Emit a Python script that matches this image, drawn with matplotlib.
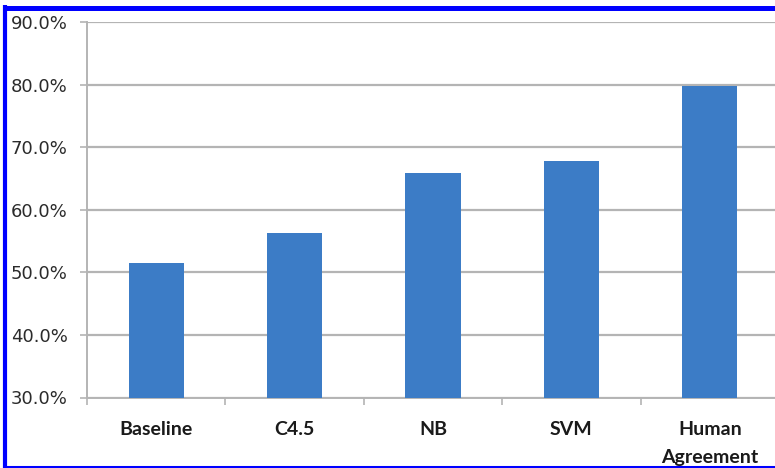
import matplotlib
matplotlib.use("Agg")
import matplotlib.pyplot as plt
from matplotlib.lines import Line2D
from matplotlib.ticker import FixedLocator, FuncFormatter

categories = ["Baseline", "C4.5", "NB", "SVM", "Human\nAgreement"]
accuracy = [51.5, 56.3, 65.8, 67.8, 79.8]
y_ticks = [30, 40, 50, 60, 70, 80, 90]

BAR_COLOR = "#3c7cc6"
GRID_COLOR = "#b4b4b4"
W, H = 775, 468

fig = plt.figure(figsize=(W / 100, H / 100), dpi=100)
fig.patch.set_facecolor("white")

# axes box in pixels: left spine at x=87, 90% line at y=22, 30% line at y=397
left_px, top_px, bottom_px = 87, 22, 397.5
cat_px = 138.4
ax = fig.add_axes([
    left_px / W,
    (H - bottom_px) / H,
    5 * cat_px / W,
    (bottom_px - top_px) / H,
])

x = list(range(len(categories)))
ax.bar(x, accuracy, width=0.40, color=BAR_COLOR, zorder=3, bottom=0)
ax.set_xlim(-0.5, len(categories) - 0.5)
ax.set_ylim(30, 90)

ax.yaxis.set_major_locator(FixedLocator(y_ticks))
ax.yaxis.set_major_formatter(FuncFormatter(lambda v, _: f"{v:.1f}%"))
ax.grid(axis="y", color=GRID_COLOR, linewidth=1.6, zorder=0)
ax.tick_params(axis="y", length=5, width=1.2, color=GRID_COLOR, pad=9,
               labelsize=13, labelcolor="#2b2b2b")

# category ticks sit on the boundaries between groups
ax.set_xticks([i + 0.5 for i in range(-1, len(categories))], minor=False)
ax.set_xticklabels([])
ax.set_xticks(x, minor=True)
ax.set_xticklabels(categories, minor=True, fontfamily="Lato",
                   fontweight="bold", fontsize=14, color="#1a1a1a",
                   linespacing=1.75, va="top")
ax.tick_params(axis="x", which="major", length=5, width=1.2, color=GRID_COLOR)
ax.tick_params(axis="x", which="minor", length=0, pad=17)

for side in ("top", "right"):
    ax.spines[side].set_visible(False)
for side in ("left", "bottom"):
    ax.spines[side].set_color(GRID_COLOR)
    ax.spines[side].set_linewidth(1.4)

# blue frame around the figure (right side falls outside the canvas)
frame = dict(color="#0000ff", transform=None, solid_capstyle="butt")
fig.add_artist(Line2D([3, W], [H - 7.5, H - 7.5], linewidth=3.6, **frame))
fig.add_artist(Line2D([5, 5], [0, H - 5], linewidth=3.0, **frame))
fig.add_artist(Line2D([3, W], [1.5, 1.5], linewidth=2.2, **frame))

fig.savefig("out.png", dpi=100)
